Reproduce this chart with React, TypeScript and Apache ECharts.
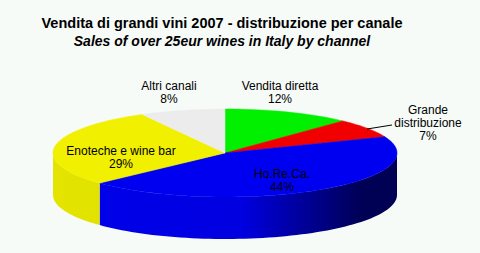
import React, { useEffect, useRef } from "react";
import * as echarts from "echarts";

const titleText = "Vendita di grandi vini 2007 - distribuzione per canale";
const subtitleText = "Sales of over 25eur wines in Italy by channel";

const categories = ["Vendita diretta", "Grande\ndistribuzione", "Ho.Re.Ca.", "Enoteche e wine bar", "Altri canali"];
const values = [12, 7, 44, 29, 8];
const colors = ["#00f000", "#f00000", "#0000f0", "#f0f000", "#ececec"];
const sideColors = [
  ["#00e000", "#00d000", "#005000"],
  ["#e00000", "#d00000", "#500000"],
  ["#0000ec", "#0000e0", "#000054"],
  ["#e4e400", "#dcdc00", "#505000"],
  ["#dcdcdc", "#d0d0d0", "#606060"],
];

// layout (pixels)
const CX = 225;
const CY = 153;
const RX = 172;
const RY = 44;
const DEPTH = 42;
const labelPos = [
  [280, 92],
  [428, 123],
  [282, 180],
  [121, 157],
  [169, 92],
];

const total = values.reduce((a, b) => a + b, 0);
const starts: number[] = [];
{
  let acc = 0;
  for (const v of values) {
    starts.push(acc);
    acc += v;
  }
}
const toAngle = (cum: number) => 90 - (cum / total) * 360;

const pt = (deg: number, dy = 0) => {
  const r = (deg * Math.PI) / 180;
  return [CX + RX * Math.cos(r), CY - RY * Math.sin(r) + dy];
};

const arcPoints = (a0: number, a1: number, dy = 0) => {
  const pts: number[][] = [];
  const n = Math.max(2, Math.ceil(Math.abs(a0 - a1) / 2));
  for (let i = 0; i <= n; i++) {
    pts.push(pt(a0 + ((a1 - a0) * i) / n, dy));
  }
  return pts;
};

export default function App() {
  const ref = useRef<HTMLDivElement>(null);
  useEffect(() => {
    document.body.style.margin = "0";
    const chart = echarts.init(ref.current!, undefined, { renderer: "svg" });
    const data = values.map((v, i) => [i, v]);

    const sideSeries = {
      type: "custom",
      coordinateSystem: "none",
      silent: true,
      z: 1,
      data,
      renderItem: (params: any, api: any) => {
        const i = params.dataIndex;
        const a0 = toAngle(starts[i]);
        const a1 = toAngle(starts[i] + api.value(1));
        const s = Math.min(a0, 0);
        const e = Math.max(a1, -180);
        if (s <= e) return { type: "group", children: [] };
        const top = arcPoints(s, e);
        const bottom = arcPoints(e, s, DEPTH);
        const c = sideColors[i];
        return {
          type: "polygon",
          shape: { points: top.concat(bottom) },
          style: {
            fill: new echarts.graphic.LinearGradient(
              CX - RX,
              0,
              CX + RX,
              0,
              [
                { offset: 0, color: c[0] },
                { offset: 0.55, color: c[1] },
                { offset: 0.9, color: c[2] },
                { offset: 1, color: c[2] },
              ],
              true
            ),
            stroke: null,
          },
        };
      },
    };

    const topSeries = {
      type: "custom",
      coordinateSystem: "none",
      silent: true,
      z: 2,
      data,
      renderItem: (params: any, api: any) => {
        const i = params.dataIndex;
        const a0 = toAngle(starts[i]);
        const a1 = toAngle(starts[i] + api.value(1));
        const pts = [[CX, CY]].concat(arcPoints(a0, a1));
        return {
          type: "polygon",
          shape: { points: pts },
          style: { fill: colors[i], stroke: colors[i], lineWidth: 0.5 },
        };
      },
    };

    const labelFont = "Liberation Sans, Arial, sans-serif";
    const labels = categories.map((c, i) => ({
      type: "text",
      x: labelPos[i][0],
      y: labelPos[i][1],
      z: 10,
      style: {
        text: `${c}\n${values[i]}%`,
        fontSize: 12,
        fontFamily: labelFont,
        fill: "#000",
        align: "center",
        verticalAlign: "middle",
        lineHeight: 13,
      },
    }));

    chart.setOption({
      animation: false,
      backgroundColor: "#f6fbf8",
      series: [sideSeries, topSeries],
      graphic: [
        {
          type: "text",
          x: 222,
          y: 23,
          z: 10,
          style: {
            text: titleText,
            fontSize: 14.5,
            fontWeight: "bold",
            fontFamily: labelFont,
            fill: "#000",
            align: "center",
            verticalAlign: "middle",
          },
        },
        {
          type: "text",
          x: 222,
          y: 41,
          z: 10,
          style: {
            text: subtitleText,
            fontSize: 14,
            fontWeight: "bold",
            fontStyle: "italic",
            fontFamily: labelFont,
            fill: "#000",
            align: "center",
            verticalAlign: "middle",
          },
        },
        ...labels,
        {
          type: "line",
          z: 10,
          shape: { x1: 367, y1: 129, x2: 392, y2: 125 },
          style: { stroke: "#000", lineWidth: 1 },
        },
      ],
    });
    return () => chart.dispose();
  }, []);
  return <div ref={ref} style={{ width: 480, height: 253 }} />;
}
